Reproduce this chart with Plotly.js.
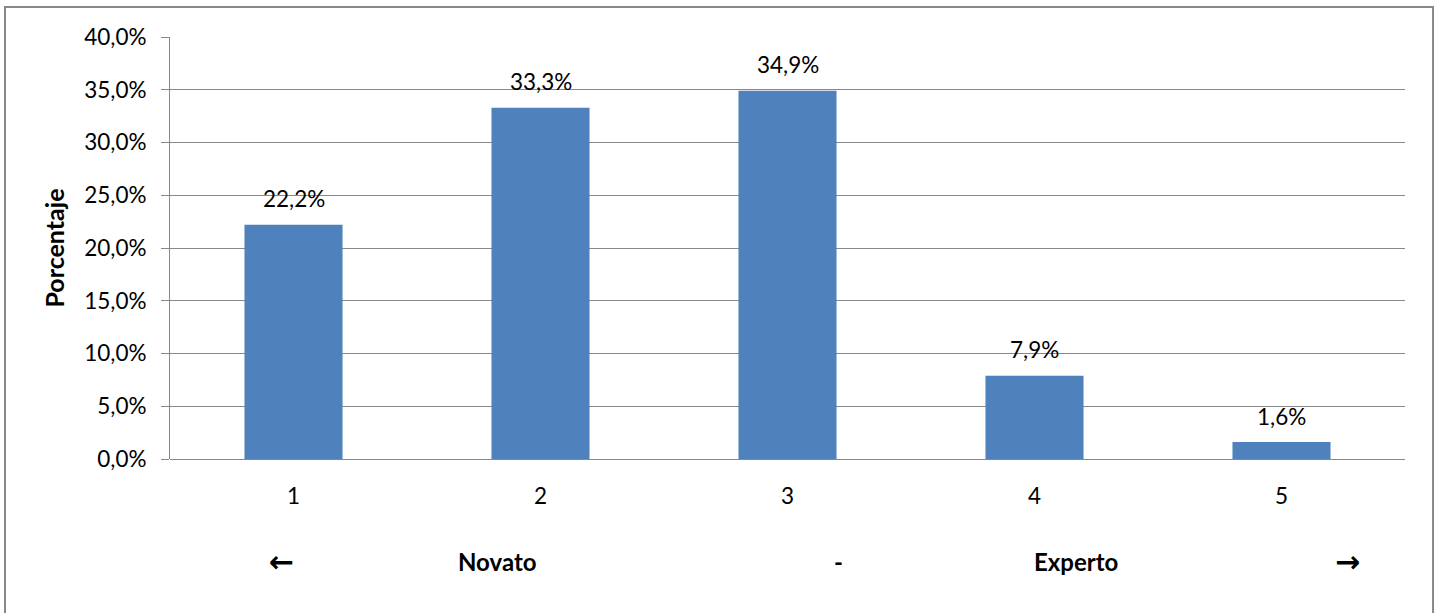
<!DOCTYPE html>
<html>
<head>
<meta charset="utf-8">
<script src="https://cdn.plot.ly/plotly-3.0.1.min.js"></script>
<style>
html,body{margin:0;padding:0;background:#fff;}
#chart{width:1438px;height:613px;}
</style>
</head>
<body>
<div id="chart"></div>
<script>
const categories = ["1", "2", "3", "4", "5"];
const values = [22.2, 33.3, 34.9, 7.9, 1.6];
const valueLabels = ["22,2%", "33,3%", "34,9%", "7,9%", "1,6%"];
const yTickValues = [0, 5, 10, 15, 20, 25, 30, 35, 40];
const yTickLabels = ["0,0%", "5,0%", "10,0%", "15,0%", "20,0%", "25,0%", "30,0%", "35,0%", "40,0%"];
const yTitle = "Porcentaje";
const scaleTexts = ["\u2190", "Novato", "-", "Experto", "\u2192"];

const FONT = "Lato, 'Open Sans', 'Liberation Sans', sans-serif";
const GRID = "#888888";

const scalePos = [0.0899, 0.2648, 0.5417, 0.7336, 0.9538];

const annotations = values.map((v, i) => ({
  x: i, y: v, xref: "x", yref: "y",
  text: valueLabels[i], showarrow: false,
  xanchor: "center", yanchor: "middle", yshift: 26,
  font: {family: FONT, size: 22.5, color: "#000"}
}));

scaleTexts.forEach((t, i) => {
  const isArrow = (t === "\u2190" || t === "\u2192");
  annotations.push({
    x: scalePos[i], y: -0.244, xref: "paper", yref: "paper",
    text: "<b>" + t + "</b>", showarrow: false,
    xanchor: "center", yanchor: "middle",
    font: {family: isArrow ? "'DejaVu Sans', sans-serif" : FONT, size: isArrow ? 30 : 24, color: "#000"}
  });
});

const trace = {
  type: "bar",
  x: categories,
  y: values,
  marker: {color: "#4F81BD", line: {width: 0}},
  hoverinfo: "skip"
};

const layout = {
  width: 1438, height: 613,
  margin: {l: 170, r: 33, t: 37, b: 154, pad: 0},
  paper_bgcolor: "#ffffff", plot_bgcolor: "#ffffff",
  showlegend: false,
  bargap: 0.603,
  font: {family: FONT, size: 22, color: "#000"},
  xaxis: {
    type: "category",
    range: [-0.5, 4.5],
    showgrid: false, zeroline: false,
    showline: false,
    ticks: "",
    ticklabelstandoff: 21,
    tickfont: {family: FONT, size: 22.5, color: "#000"},
    fixedrange: true
  },
  yaxis: {
    range: [0, 40],
    tickmode: "array",
    tickvals: yTickValues,
    ticktext: yTickLabels,
    showgrid: true, gridcolor: GRID, gridwidth: 1,
    zeroline: true, zerolinecolor: GRID, zerolinewidth: 1,
    showline: true, linecolor: GRID, linewidth: 1,
    ticks: "outside", ticklen: 8, tickcolor: GRID, tickwidth: 1,
    ticklabelstandoff: 10,
    tickfont: {family: FONT, size: 22.5, color: "#000"},
    title: {text: "<b>" + yTitle + "</b>", standoff: 12,
            font: {family: FONT, size: 25, color: "#000"}},
    automargin: false,
    fixedrange: true
  },
  annotations: annotations,
  shapes: [{
    type: "rect", xref: "paper", yref: "paper",
    x0: -0.1336, x1: 1.0227, y0: -0.40, y1: 1.0711,
    line: {color: GRID, width: 2}, fillcolor: "rgba(0,0,0,0)", layer: "below"
  }]
};

Plotly.newPlot("chart", [trace], layout, {displayModeBar: false, staticPlot: true});
</script>
</body>
</html>
